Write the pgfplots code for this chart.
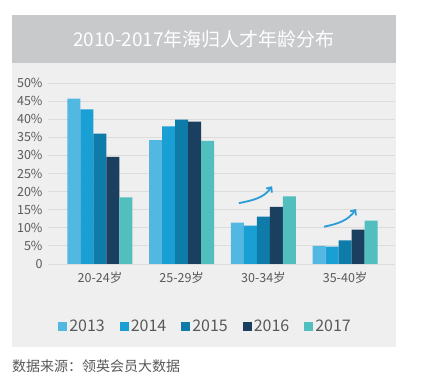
\documentclass[border=0pt]{standalone}
\usepackage{fontspec}
\setmainfont{Noto Sans CJK SC}
\usepackage{pgfplots}
\pgfplotsset{compat=1.18}
\usetikzlibrary{arrows.meta}
\definecolor{cA}{HTML}{52B8E2}
\definecolor{cB}{HTML}{1A9FD5}
\definecolor{cC}{HTML}{0E7BA9}
\definecolor{cD}{HTML}{1B3F5F}
\definecolor{cE}{HTML}{52BEBE}
\definecolor{band}{HTML}{C8C9CB}
\definecolor{panel}{HTML}{EFEFEF}
\definecolor{gridc}{HTML}{DCDCDC}
\definecolor{txt}{HTML}{595959}
\definecolor{arr}{HTML}{2B9CD8}
\begin{document}
\begin{tikzpicture}
\fill[white] (0,0) rectangle (426bp,385bp);
\fill[band] (12bp,322bp) rectangle (396bp,370bp);
\fill[panel] (12bp,38bp) rectangle (396bp,322bp);
\node[text=white, font=\fontsize{19bp}{22bp}\selectfont] at (204bp,346bp) {2010-2017年海归人才年龄分布};
\node[anchor=west, inner sep=0pt, text=txt, font=\fontsize{14bp}{16bp}\selectfont] at (12bp,19bp) {数据来源：领英会员大数据};
\begin{axis}[
  at={(48bp,121bp)}, anchor=south west,
  scale only axis, width=347bp, height=181bp,
  ybar=0pt, bar width=0.159,
  xmin=-0.636, xmax=3.61, ymin=0, ymax=50,
  xtick={0,1,2,3},
  xticklabels={20-24岁,25-29岁,30-34岁,35-40岁},
  ytick={0,5,...,50},
  yticklabels={0,5\%,10\%,15\%,20\%,25\%,30\%,35\%,40\%,45\%,50\%},
  ymajorgrids, major grid style={gridc, line width=0.8bp},
  axis line style={draw=none}, tick style={draw=none},
  tick label style={text=txt, font=\fontsize{12.5bp}{14bp}\selectfont},
  yticklabel style={xshift=-2bp},
  legend columns=5,
  legend style={at={(0.454,-0.347)}, anchor=center, draw=none, fill=none,
    text=txt, font=\fontsize{16bp}{18bp}\selectfont,
    /tikz/every even column/.append style={column sep=13bp}},
  legend image code/.code={\fill[#1] (0bp,-4.5bp) rectangle (9bp,4.5bp);},
]
\addplot[fill=cA, draw=none] coordinates {(0,45.7) (1,34.2) (2,11.4) (3,5.0)};
\addplot[fill=cB, draw=none] coordinates {(0,42.7) (1,38.0) (2,10.6) (3,4.8)};
\addplot[fill=cC, draw=none] coordinates {(0,36.0) (1,39.9) (2,13.1) (3,6.5)};
\addplot[fill=cD, draw=none] coordinates {(0,29.6) (1,39.3) (2,15.8) (3,9.5)};
\addplot[fill=cE, draw=none] coordinates {(0,18.4) (1,34.0) (2,18.7) (3,12.0)};
\legend{2013,2014,2015,2016,2017}
\draw[arr, line width=1.8bp, -{Straight Barb[length=4bp,width=7bp]}] (axis cs:1.70,16.8) to[out=12,in=235] (axis cs:2.106,21.5);
\draw[arr, line width=1.8bp, -{Straight Barb[length=4bp,width=7bp]}] (axis cs:2.742,10.3) to[out=12,in=235] (axis cs:3.134,15.2);
\end{axis}
\end{tikzpicture}
\end{document}
